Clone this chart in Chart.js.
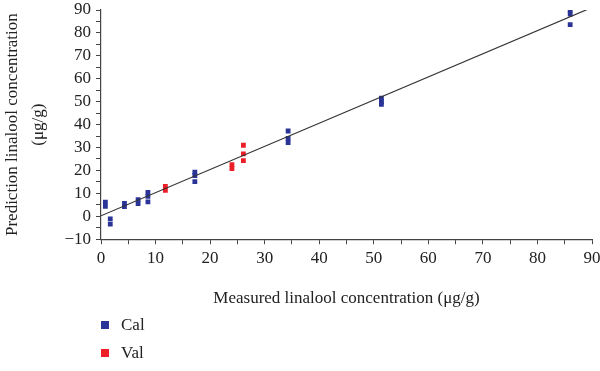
<!DOCTYPE html>
<html>
<head>
<meta charset="utf-8">
<script src="https://cdn.jsdelivr.net/npm/chart.js@4/dist/chart.umd.min.js"></script>
<style>
  html, body { margin: 0; padding: 0; background: #fff; }
  #wrap { position: relative; width: 600px; height: 371px; }
  #legend { position: absolute; left: 101px; top: 311px; font-family: "Liberation Serif", "DejaVu Serif", serif; font-size: 17px; color: #222; }
  #legend .item { display: flex; align-items: center; height: 28px; }
  #legend .sw { width: 8px; height: 8px; margin-right: 12px; }
</style>
</head>
<body>
<div id="wrap">
  <canvas id="c" width="600" height="371"></canvas>
  <div id="legend"></div>
</div>
<script>
// Data
const calX = [0.8, 0.8, 1.7, 1.7, 4.3, 4.3, 6.8, 6.8, 8.6, 8.6, 8.6, 17.2, 17.2, 17.2, 34.3, 34.3, 34.3, 51.4, 51.4, 51.4, 86.0, 86.0, 86.0];
const calY = [4.3, 6.2, -1.1, -3.4, 4.2, 5.6, 5.5, 7.3, 6.3, 8.7, 10.4, 19.3, 17.8, 15.1, 37.2, 34.0, 32.2, 51.5, 50.0, 48.8, 89.8, 88.2, 83.6];
const valX = [11.8, 11.8, 24.0, 24.0, 26.1, 26.1, 26.1];
const valY = [11.3, 13.0, 20.8, 22.5, 24.3, 27.2, 31.0];
const fitX = [0, 89.5];
const fitY = [0.2, 90.6];
const seriesNames = ['Cal', 'Val'];
const xTitle = 'Measured linalool concentration (μg/g)';
const yTitle = ['Prediction linalool concentration', '(μg/g)'];

const blue = 'rgb(42,52,150)';
const red = 'rgb(236,30,40)';
const axisColor = '#444';
const font = '"Liberation Serif", "DejaVu Serif", serif';

const toPts = (xs, ys) => xs.map((x, i) => ({ x: x, y: ys[i] }));

new Chart(document.getElementById('c'), {
  type: 'scatter',
  data: {
    datasets: [
      { label: seriesNames[0], data: toPts(calX, calY), pointStyle: 'rect', pointRadius: 3.4, pointHoverRadius: 3.4,
        backgroundColor: blue, borderColor: blue, borderWidth: 0, order: 1 },
      { label: seriesNames[1], data: toPts(valX, valY), pointStyle: 'rect', pointRadius: 3.4, pointHoverRadius: 3.4,
        backgroundColor: red, borderColor: red, borderWidth: 0, order: 1 },
      { label: 'fit', type: 'line', data: toPts(fitX, fitY), showLine: true, pointRadius: 0,
        borderColor: '#333', borderWidth: 1.2, fill: false, order: 0 }
    ]
  },
  options: {
    responsive: false,
    animation: false,
    events: [],
    layout: { padding: { top: 10, right: 8, bottom: 60, left: 0 } },
    plugins: { legend: { display: false }, tooltip: { enabled: false } },
    scales: {
      x: {
        type: 'linear', min: 0, max: 90,
        border: { display: true, color: axisColor, width: 1.2 },
        grid: { display: true, drawOnChartArea: false, drawTicks: true, tickLength: 5, color: axisColor, lineWidth: 1 },
        ticks: { stepSize: 5, padding: 4, color: '#222', font: { family: font, size: 17 },
          maxRotation: 0, autoSkip: false,
          callback: v => (v % 10 === 0 ? String(v) : '') },
        title: { display: true, text: xTitle, color: '#222', font: { family: font, size: 17, lineHeight: 1.2 },
          padding: { top: 16, bottom: 2 } },
        afterFit: s => { s.paddingRight = 0; s.paddingLeft = 0; }
      },
      y: {
        type: 'linear', min: -10, max: 90,
        border: { display: true, color: axisColor, width: 1.2 },
        grid: { display: true, drawOnChartArea: false, drawTicks: true, tickLength: 5, color: axisColor, lineWidth: 1 },
        ticks: { stepSize: 5, padding: 5, color: '#222', font: { family: font, size: 17 }, autoSkip: false,
          callback: v => (v % 10 === 0 ? (v < 0 ? '\u2212' + Math.abs(v) : String(v)) : '') },
        title: { display: true, text: yTitle, color: '#222', font: { family: font, size: 17, lineHeight: 1.5 },
          padding: { top: 0, bottom: 0 } },
        afterFit: s => { s.width = 101; s.paddingTop = 0; s.paddingBottom = 0; }
      }
    }
  }
});

const legend = document.getElementById('legend');
[[seriesNames[0], blue], [seriesNames[1], red]].forEach(([name, col]) => {
  const d = document.createElement('div');
  d.className = 'item';
  d.innerHTML = '<span class="sw" style="background:' + col + '"></span><span>' + name + '</span>';
  legend.appendChild(d);
});
</script>
</body>
</html>
